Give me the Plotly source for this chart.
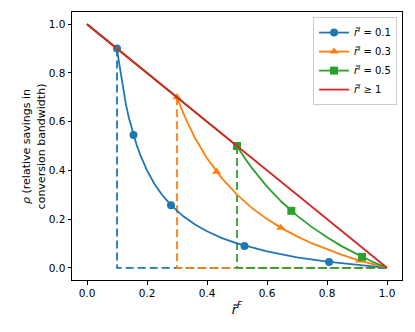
import plotly.graph_objects as go

# r^I values for the three curves
r_levels = [0.1, 0.3, 0.5]
labels = ["0.1", "0.3", "0.5"]
colors = ["#1f77b4", "#ff7f0e", "#2ca02c"]
symbols = ["circle", "triangle-up", "square"]

# curves (x = r^F, y = rho)
blue_x = [0.0, 0.1, 0.105, 0.11, 0.12, 0.13, 0.14, 0.15, 0.165, 0.18, 0.2, 0.225, 0.25, 0.28,
          0.32, 0.36, 0.4, 0.45, 0.5, 0.6, 0.7, 0.8, 0.9, 1.0]
blue_y = [1.0, 0.9, 0.857, 0.818, 0.733, 0.669, 0.614, 0.567, 0.506, 0.456, 0.4, 0.344, 0.3, 0.257,
          0.2125, 0.178, 0.15, 0.122, 0.1, 0.067, 0.043, 0.025, 0.011, 0.0]
orange_x = [0.0, 0.3, 0.315, 0.33, 0.36, 0.4, 0.45, 0.5, 0.55, 0.6, 0.65, 0.7, 0.75, 0.8, 0.85,
            0.9, 0.95, 1.0]
orange_y = [1.0, 0.7, 0.652, 0.609, 0.533, 0.45, 0.367, 0.3, 0.245, 0.2, 0.162, 0.129, 0.1, 0.075,
            0.053, 0.033, 0.016, 0.0]
green_x = [0.0, 0.5, 0.525, 0.55, 0.6, 0.65, 0.7, 0.75, 0.8, 0.85, 0.9, 0.95, 1.0]
green_y = [1.0, 0.5, 0.452, 0.409, 0.333, 0.269, 0.214, 0.167, 0.125, 0.088, 0.056, 0.026, 0.0]

# marker positions
blue_mx = [0.1, 0.155, 0.28, 0.525, 0.807]
blue_my = [0.9, 0.545, 0.257, 0.09, 0.024]
orange_mx = [0.3, 0.432, 0.646, 0.908]
orange_my = [0.7, 0.394, 0.164, 0.03]
green_mx = [0.5, 0.681, 0.917]
green_my = [0.5, 0.234, 0.045]

# r^I >= 1 line
red_x = [0.0, 1.0]
red_y = [1.0, 0.0]

curves = [(blue_x, blue_y, blue_mx, blue_my),
          (orange_x, orange_y, orange_mx, orange_my),
          (green_x, green_y, green_mx, green_my)]

fig = go.Figure()

# dashed guides
for a, c in zip(r_levels, colors):
    fig.add_trace(go.Scatter(x=[a, a, 1.0], y=[1 - a, 0.0, 0.0], mode="lines",
                             line=dict(color=c, width=1.8, dash="8px,4px"),
                             showlegend=False, hoverinfo="skip"))

for (cx, cy, mx, my), c, s, lab in zip(curves, colors, symbols, labels):
    fig.add_trace(go.Scatter(x=cx, y=cy, mode="lines", line=dict(color=c, width=1.8),
                             showlegend=False))
    fig.add_trace(go.Scatter(x=mx, y=my, mode="markers",
                             marker=dict(color=c, symbol=s, size=8), showlegend=False))
    fig.add_trace(go.Scatter(x=[None], y=[None], mode="lines+markers",
                             line=dict(color=c, width=1.8),
                             marker=dict(color=c, symbol=s, size=8),
                             name="<i>r̃</i><sup><i>I</i></sup> = " + lab))

fig.add_trace(go.Scatter(x=red_x, y=red_y, mode="lines", line=dict(color="#d62728", width=1.8),
                         name="<i>r̃</i><sup><i>I</i></sup> ≥ 1"))

axis_common = dict(showline=True, linecolor="black", linewidth=1, mirror=True,
                   ticks="outside", ticklen=3.5, tickcolor="black", showgrid=False,
                   zeroline=False, automargin=False, tickfont=dict(size=10.5, color="black"))

# page body has an 8px margin, so the figure is sized a bit smaller
fig.update_layout(
    width=407, height=324,
    margin=dict(l=64, r=13, t=4, b=52),
    plot_bgcolor="white", paper_bgcolor="white",
    font=dict(family="DejaVu Sans", size=10.5, color="black"),
    xaxis=dict(range=[-0.05, 1.05], tickvals=[0, 0.2, 0.4, 0.6, 0.8, 1.0],
               ticktext=["0.0", "0.2", "0.4", "0.6", "0.8", "1.0"],
               title=dict(text="<i>r̃</i><sup><i>F</i></sup>", standoff=6), **axis_common),
    yaxis=dict(range=[-0.05, 1.05], tickvals=[0, 0.2, 0.4, 0.6, 0.8, 1.0],
               ticktext=["0.0", "0.2", "0.4", "0.6", "0.8", "1.0"],
               **axis_common),
    legend=dict(x=0.985, y=0.981, xanchor="right", yanchor="top",
                bgcolor="rgba(255,255,255,0.8)", bordercolor="#cccccc", borderwidth=1,
                font=dict(size=10), tracegroupgap=0, itemwidth=30),
)

# y title as an annotation so it can sit closer to the tick labels
fig.add_annotation(text="<i>ρ</i> (relative savings in<br>conversion bandwidth)",
                   xref="paper", yref="paper", x=-0.117, y=0.5, xanchor="center",
                   yanchor="middle", textangle=-90, showarrow=False,
                   font=dict(size=11, color="black"))

fig.write_html("out.html")
